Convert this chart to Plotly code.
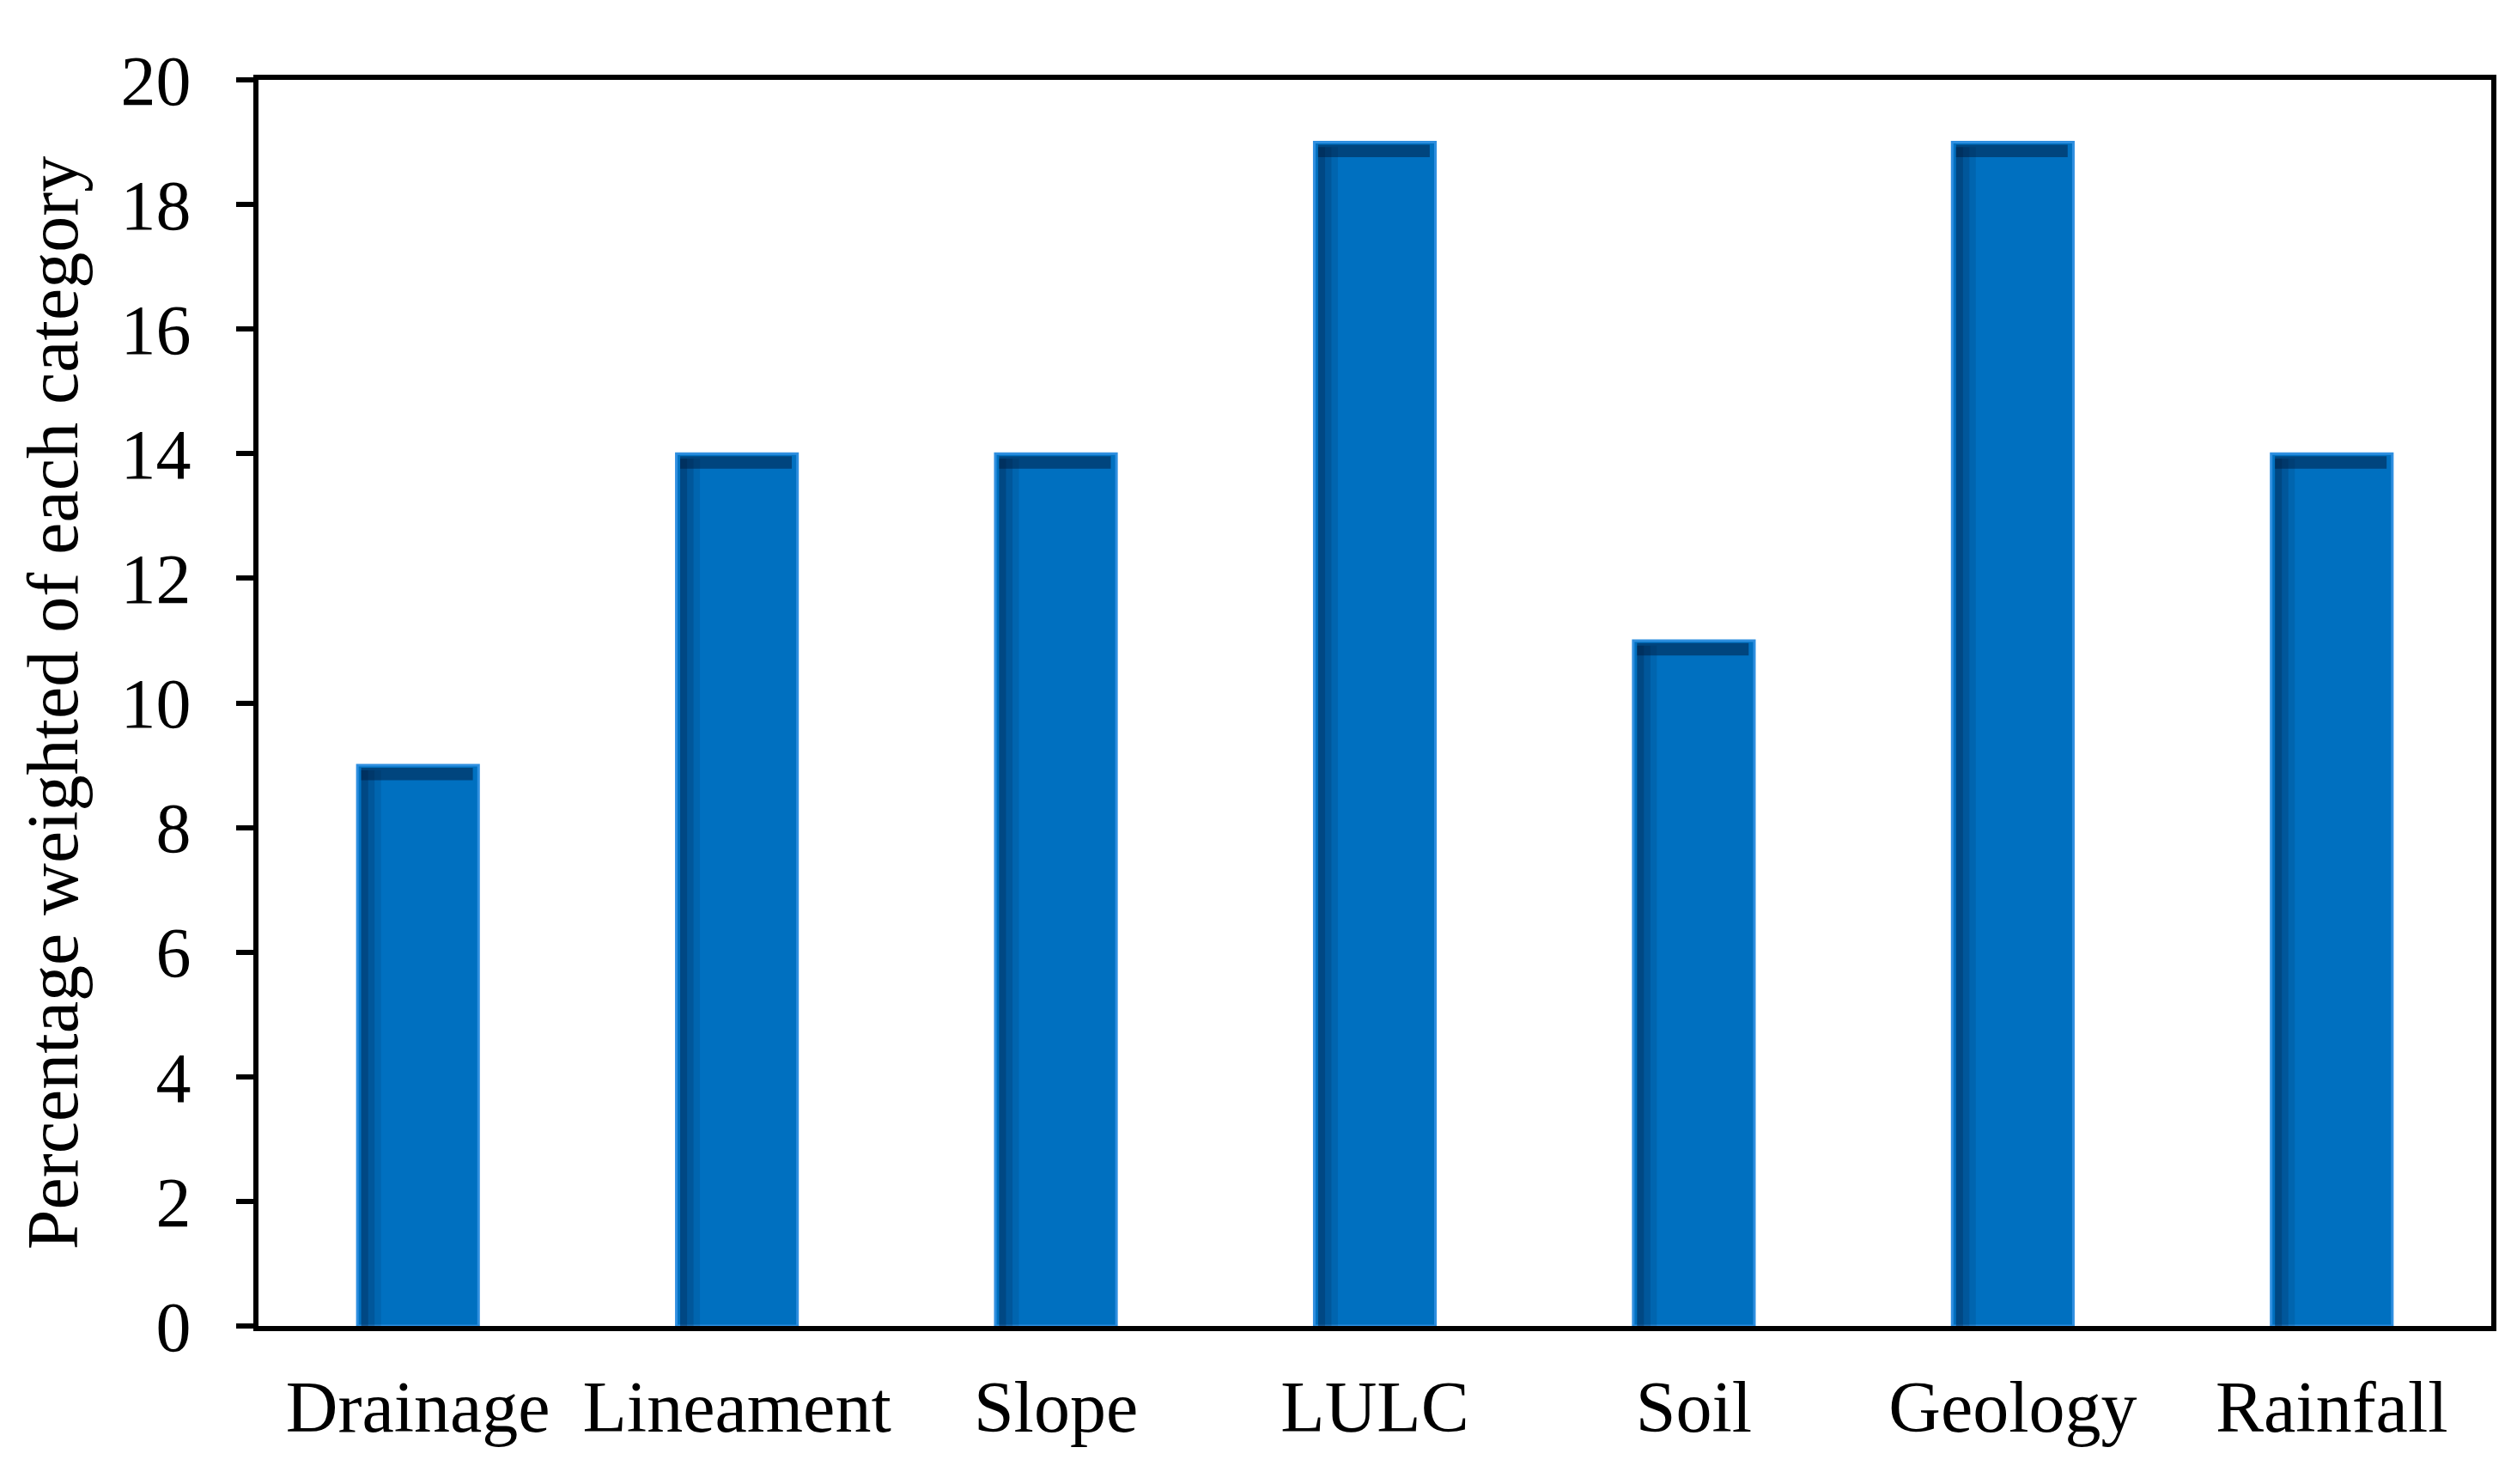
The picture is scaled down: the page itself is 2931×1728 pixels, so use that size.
import plotly.graph_objects as go

categories = ["Drainage", "Lineament", "Slope", "LULC", "Soil", "Geology", "Rainfall"]
weights = [9, 14, 14, 19, 11, 19, 14]
y_ticks = [0, 2, 4, 6, 8, 10, 12, 14, 16, 18, 20]

FONT = "Liberation Serif, Times New Roman, serif"
BAR_W = 0.38
top_band = 0.2
top_base = [v - top_band - 0.04 for v in weights]
top_h = [top_band for _ in weights]

fig = go.Figure()
# main bars
fig.add_trace(go.Bar(
    x=categories, y=weights, width=BAR_W,
    marker=dict(color="#0070C0", line=dict(color="#2F8FE0", width=3)),
    showlegend=False, hoverinfo="x+y",
))
# left inner shadow (gradient approximation)
for off, w, a in [(0.012, 0.022, 0.45), (0.034, 0.02, 0.28), (0.054, 0.02, 0.12)]:
    fig.add_trace(go.Bar(
        x=categories, y=[v - 0.08 for v in weights], width=w, offset=-BAR_W / 2 + off,
        marker=dict(color=f"rgba(0,25,60,{a})", line=dict(width=0)),
        showlegend=False, hoverinfo="skip",
    ))
# top inner shadow
fig.add_trace(go.Bar(
    x=categories, y=top_h, base=top_base, width=BAR_W - 0.03, offset=-BAR_W / 2 + 0.012,
    marker=dict(color="rgba(0,25,60,0.5)", line=dict(width=0)),
    showlegend=False, hoverinfo="skip",
))

fig.update_layout(
    width=2931, height=1728,
    margin=dict(l=293, r=38, t=85, b=192),
    barmode="overlay",
    plot_bgcolor="white", paper_bgcolor="white",
    font=dict(family=FONT, color="black", size=84),
    xaxis=dict(
        type="category", showline=True, linecolor="black", linewidth=6, mirror=True,
        ticks="", showgrid=False, tickfont=dict(size=84, family=FONT),
        ticklabelstandoff=16,
    ),
    yaxis=dict(
        range=[0, 20], tickvals=y_ticks, showline=True, linecolor="black", linewidth=6,
        mirror=True, ticks="outside", ticklen=20, tickwidth=6, tickcolor="black",
        showgrid=False, zeroline=False, tickfont=dict(size=82, family=FONT),
        ticklabelstandoff=36,
        title=dict(text="Percentage weighted of each category", font=dict(size=84, family=FONT),
                   standoff=24),
    ),
)

fig.write_html("out.html")
